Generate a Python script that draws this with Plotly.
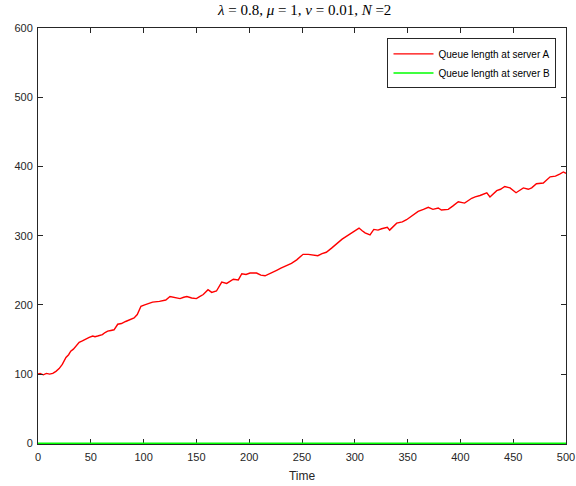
import plotly.graph_objects as go

# Queue length at server A
time_a = [0, 2, 5, 8, 11, 14, 17, 20, 23, 26.5, 29, 31, 33.5, 36, 39, 42, 45.5, 48.5, 51.8, 54, 56.5, 61, 63.5, 66, 69, 72, 75.5, 79, 83, 87, 91, 94,
          97.5, 101, 104, 108.5, 115, 121, 125, 130, 134.5, 138, 141, 145.5, 150, 153, 156.5, 161, 164.5, 169, 174, 178.7,
          185, 189.7, 193, 197, 200.8, 207, 211, 215, 219.7, 226, 230, 234, 240, 245, 251, 256, 259, 265, 269, 273,
          278, 283, 288, 292, 298.6, 304, 307, 309.7, 314.4, 318, 322, 325.4, 330.8, 333, 339.7, 345, 349, 355, 360, 365,
          369.6, 374, 379, 382, 388.5, 393, 398, 404, 410.7, 414, 418.6, 425, 428, 434.4, 438, 442, 447, 452.7,
          456, 459.6, 464.3, 467.5, 472, 478.5, 485, 490, 494, 497.5, 500]
queue_a = [100, 101, 99, 101, 100, 101, 104, 108, 114, 124, 128, 133, 136, 140, 146, 148, 151, 153, 155, 154, 155, 157, 160, 162, 163, 164, 172, 173, 176, 178, 181, 186,
           198, 200, 202, 204, 205, 207, 212, 210, 209, 211, 212, 210, 209, 212, 215, 222, 218, 220, 233, 231,
           237, 236, 245, 244, 246, 246, 243, 242, 245, 250, 253, 256, 260, 265, 273, 273, 272, 271, 274, 276,
           282, 289, 295, 299, 306, 311, 307, 304, 301, 309, 308, 310, 312, 308, 318, 320, 323, 329, 335, 338,
           341, 338, 340, 337, 338, 343, 349, 347, 354, 356, 358, 362, 356, 365, 367, 371, 369, 362,
           366, 369, 367, 369, 375, 376, 385, 386, 389, 392, 390]

# Queue length at server B
time_b = [0, 500]
queue_b = [0, 0]

x_ticks = [0, 50, 100, 150, 200, 250, 300, 350, 400, 450, 500]
y_ticks = [0, 100, 200, 300, 400, 500, 600]

fig = go.Figure()
fig.add_trace(go.Scatter(x=time_a, y=queue_a, mode="lines", name="Queue length at server A",
                         line=dict(color="#ff0000", width=1.4)))
fig.add_trace(go.Scatter(x=time_b, y=queue_b, mode="lines", name="Queue length at server B",
                         line=dict(color="#00ff00", width=1.5)))

axis_common = dict(showgrid=False, zeroline=False, showline=True, linecolor="#262626", linewidth=1,
                   mirror="ticks", ticks="inside", ticklen=5, tickcolor="#262626", tickwidth=1,
                   automargin=False,
                   tickfont=dict(family="Liberation Sans, Arial, sans-serif", size=11, color="#262626"))

fig.update_layout(
    template="none",
    width=576, height=486,
    margin=dict(l=38, r=10, t=28, b=42, autoexpand=False),
    paper_bgcolor="white", plot_bgcolor="white",
    title=dict(text="<i>λ</i> = 0.8, <i>μ</i> = 1, <i>ν</i> = 0.01, <i>N</i> =2",
               x=0.529, xanchor="center", y=0.98, yanchor="middle",
               font=dict(family="Liberation Serif, Times New Roman, serif", size=15, color="#000000")),
    xaxis=dict(range=[0, 500], tickvals=x_ticks, ticktext=[str(v) for v in x_ticks], ticklabelstandoff=3,
               title=dict(text="Time", font=dict(family="Liberation Sans, Arial, sans-serif", size=12, color="#262626"), standoff=9),
               layer="below traces", **axis_common),
    yaxis=dict(range=[-1, 600], tickvals=y_ticks, ticktext=[str(v) for v in y_ticks], ticklabelstandoff=2,
               **axis_common),
    legend=dict(x=0.982, y=0.975, xanchor="right", yanchor="top",
                bgcolor="white", bordercolor="#262626", borderwidth=1,
                font=dict(family="Liberation Sans, Arial, sans-serif", size=10, color="#000000"),
                tracegroupgap=0, itemwidth=40),
    showlegend=True,
)

fig.write_html("out.html", config={"displayModeBar": False},
               post_script="document.body.style.margin='0px';")
